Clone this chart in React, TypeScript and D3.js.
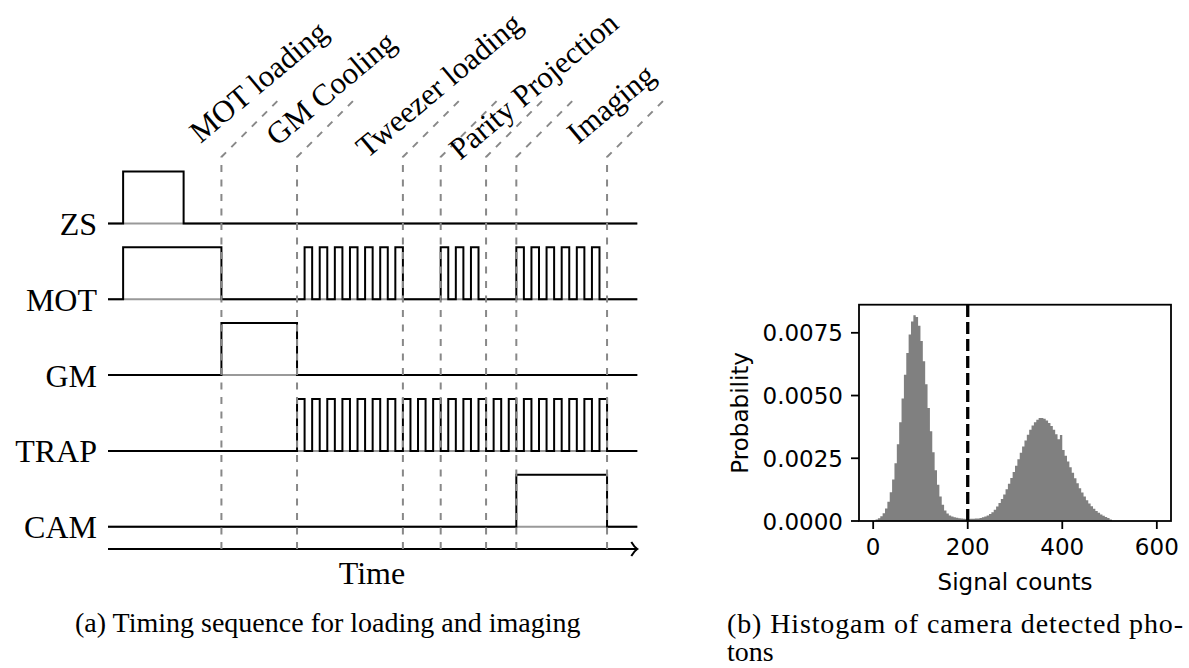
import React, { useEffect, useRef } from "react";
import * as d3 from "d3";

// ---- timing sequence (a) ----
const rowNames = ["ZS", "MOT", "GM", "TRAP", "CAM"];
// time in units of half a trap chopping period; [start, end] of each high level
const zsPulses = [[-23, -15]];
const motPulses = [
  [-23, -10],
  [1, 2], [3, 4], [5, 6], [7, 8], [9, 10], [11, 12], [13, 14],
  [19, 20], [21, 22], [23, 24],
  [29, 30], [31, 32], [33, 34], [35, 36], [37, 38], [39, 40],
];
const gmPulses = [[-10, 0]];
const trapPulses = [
  [0, 1], [2, 3], [4, 5], [6, 7], [8, 9], [10, 11], [12, 13], [14, 15],
  [16, 17], [18, 19], [20, 21], [22, 23], [24, 25], [26, 27], [28, 29],
  [30, 31], [32, 33], [34, 35], [36, 37], [38, 39], [40, 41],
];
const camPulses = [[29, 41]];
const rowPulses = [zsPulses, motPulses, gmPulses, trapPulses, camPulses];
const timeRange = [-25, 45];
const eventTimes = [-10, 0, 14, 19, 25, 29, 41];
const phaseLabels = ["MOT loading", "GM Cooling", "Tweezer loading", "Parity Projection", "Imaging"];
const phaseTimes = [-10, 0, 14, 25, 41];

// ---- histogram (b) ----
const binWidth = 5;
const binStarts = d3.range(5, 505, binWidth);
const probability = [
  0.00006, 0.00011, 0.00019, 0.00031, 0.0005, 0.00077, 0.00115, 0.00165, 0.0023, 0.00306,
  0.00394, 0.00488, 0.00583, 0.0067, 0.00743, 0.00795, 0.0082, 0.00813, 0.00778, 0.00717,
  0.00637, 0.00545, 0.0045, 0.00358, 0.00274, 0.00202, 0.00144, 0.00098, 0.00065, 0.00042,
  0.0003, 0.00022, 0.00018, 0.00015, 0.00013, 0.00011, 0.0001, 0.00009, 0.00008, 0.00008,
  0.00009, 0.00009, 0.0001, 0.0001, 0.00012, 0.00015, 0.00018, 0.00022, 0.00028, 0.00035,
  0.00045, 0.00058, 0.00072, 0.00088, 0.00106, 0.00127, 0.00148, 0.00171, 0.00195, 0.0022,
  0.00246, 0.00272, 0.00297, 0.00321, 0.00344, 0.00364, 0.00381, 0.00394, 0.00404, 0.0041,
  0.0041, 0.00407, 0.00401, 0.00391, 0.00379, 0.00364, 0.00346, 0.00326, 0.00343, 0.00283,
  0.0026, 0.00237, 0.00214, 0.00192, 0.0017, 0.0015, 0.00131, 0.00114, 0.00098, 0.00083,
  0.0007, 0.00059, 0.00049, 0.0004, 0.00033, 0.00026, 0.00021, 0.00016, 0.00012, 0.00006,
];
const threshold = 200;
const xTicks = [0, 200, 400, 600];
const yTicks = [0, 0.0025, 0.005, 0.0075];

const SERIF = "'Liberation Serif', serif";
const SANS = "'DejaVu Sans', sans-serif";

const App = () => {
  const ref = useRef(null);

  useEffect(() => {
    const svg = d3.select(ref.current);
    svg.selectAll("*").remove();

    // ===== timing diagram =====
    const tx = d3.scaleLinear().domain(timeRange).range([108, 637.3]);
    const rowY = d3.scalePoint().domain(rowNames).range([223.5, 526.7]);
    const pulseH = 52;
    const arrowY = 549;
    const dashTop = 157;
    const diag = 60;

    const g = svg.append("g");

    rowNames.forEach((name, i) => {
      const base = rowY(name);
      g.append("line")
        .attr("x1", tx(timeRange[0])).attr("x2", tx(timeRange[1]))
        .attr("y1", base).attr("y2", base)
        .attr("stroke", "#999").attr("stroke-width", 2);

      const pts = [[timeRange[0], 0]];
      rowPulses[i].forEach(([s, e]) => {
        pts.push([s, 0], [s, 1], [e, 1], [e, 0]);
      });
      pts.push([timeRange[1], 0]);
      const line = d3.line().x(d => tx(d[0])).y(d => base - d[1] * pulseH);
      g.append("path")
        .attr("d", line(pts))
        .attr("fill", "none")
        .attr("stroke", "#000")
        .attr("stroke-width", 2);

      g.append("text")
        .attr("x", 97).attr("y", base + 11.5)
        .attr("text-anchor", "end")
        .attr("font-family", SERIF).attr("font-size", 32)
        .text(name);
    });

    // time axis arrow
    const xEnd = tx(timeRange[1]);
    g.append("line")
      .attr("x1", tx(timeRange[0])).attr("x2", xEnd)
      .attr("y1", arrowY).attr("y2", arrowY)
      .attr("stroke", "#000").attr("stroke-width", 2);
    g.append("path")
      .attr("d", `M${xEnd - 6},${arrowY - 7} Q${xEnd - 3},${arrowY - 2} ${xEnd},${arrowY} Q${xEnd - 3},${arrowY + 2} ${xEnd - 6},${arrowY + 7}`)
      .attr("fill", "none").attr("stroke", "#000").attr("stroke-width", 2);
    g.append("text")
      .attr("x", 372).attr("y", 584)
      .attr("text-anchor", "middle")
      .attr("font-family", SERIF).attr("font-size", 32)
      .text("Time");

    // dashed event markers
    eventTimes.forEach(t => {
      const X = tx(t);
      g.append("path")
        .attr("d", `M${X},${arrowY} L${X},${dashTop} L${X + diag},${dashTop - diag}`)
        .attr("fill", "none")
        .attr("stroke", "#888")
        .attr("stroke-width", 2)
        .attr("stroke-dasharray", "7 7.5");
    });

    // phase labels
    const labelDx = [-21, -20, -36, -26, -29];
    const labelY = [144, 147, 159, 161, 145];
    phaseLabels.forEach((lab, i) => {
      const px = tx(phaseTimes[i]) + labelDx[i];
      g.append("text")
        .attr("transform", `translate(${px},${labelY[i]}) rotate(-40)`)
        .attr("font-family", SERIF).attr("font-size", 31)
        .text(lab);
    });

    g.append("text")
      .attr("x", 75).attr("y", 632)
      .attr("font-family", SERIF).attr("font-size", 28)
      .text("(a) Timing sequence for loading and imaging");

    // ===== histogram =====
    const left = 859, right = 1171, top = 304.7, bottom = 521;
    const x = d3.scaleLinear().domain([-30, 630]).range([left, right]);
    const y = d3.scaleLinear().domain([0, 0.00862]).range([bottom, top]);
    const h = svg.append("g");

    const steps = binStarts.map((b, i) => [b, probability[i]]);
    steps.push([binStarts[binStarts.length - 1] + binWidth, 0]);
    const area = d3.area()
      .curve(d3.curveStepAfter)
      .x(d => x(d[0]))
      .y0(bottom)
      .y1(d => y(d[1]));
    h.append("path")
      .attr("d", area(steps))
      .attr("fill", "#808080");

    h.append("line")
      .attr("x1", x(threshold)).attr("x2", x(threshold))
      .attr("y1", bottom).attr("y2", top)
      .attr("stroke", "#000").attr("stroke-width", 3.3)
      .attr("stroke-dasharray", "12 5");

    h.append("rect")
      .attr("x", left).attr("y", top)
      .attr("width", right - left).attr("height", bottom - top)
      .attr("fill", "none").attr("stroke", "#000").attr("stroke-width", 1.8);

    xTicks.forEach(v => {
      h.append("line")
        .attr("x1", x(v)).attr("x2", x(v))
        .attr("y1", bottom).attr("y2", bottom + 8)
        .attr("stroke", "#000").attr("stroke-width", 1.8);
      h.append("text")
        .attr("x", x(v)).attr("y", bottom + 34)
        .attr("text-anchor", "middle")
        .attr("font-family", SANS).attr("font-size", 23)
        .text(v);
    });
    yTicks.forEach(v => {
      h.append("line")
        .attr("x1", left - 8).attr("x2", left)
        .attr("y1", y(v)).attr("y2", y(v))
        .attr("stroke", "#000").attr("stroke-width", 1.8);
      h.append("text")
        .attr("x", left - 16).attr("y", y(v) + 8.5)
        .attr("text-anchor", "end")
        .attr("font-family", SANS).attr("font-size", 23)
        .text(d3.format(".4f")(v));
    });
    h.append("text")
      .attr("x", (left + right) / 2).attr("y", 590)
      .attr("text-anchor", "middle")
      .attr("font-family", SANS).attr("font-size", 23)
      .text("Signal counts");
    h.append("text")
      .attr("transform", `translate(748,${(top + bottom) / 2}) rotate(-90)`)
      .attr("text-anchor", "middle")
      .attr("font-family", SANS).attr("font-size", 23)
      .text("Probability");

    h.append("text")
      .attr("x", 727).attr("y", 633)
      .attr("font-family", SERIF).attr("font-size", 28)
      .attr("textLength", 456)
      .text("(b) Histogam of camera detected pho-");
    h.append("text")
      .attr("x", 727).attr("y", 661)
      .attr("font-family", SERIF).attr("font-size", 28)
      .text("tons");
  }, []);

  return (
    <svg
      ref={ref}
      width={1189}
      height={668}
      style={{ position: "absolute", left: 0, top: 0, background: "#fff" }}
    />
  );
};

export default App;
